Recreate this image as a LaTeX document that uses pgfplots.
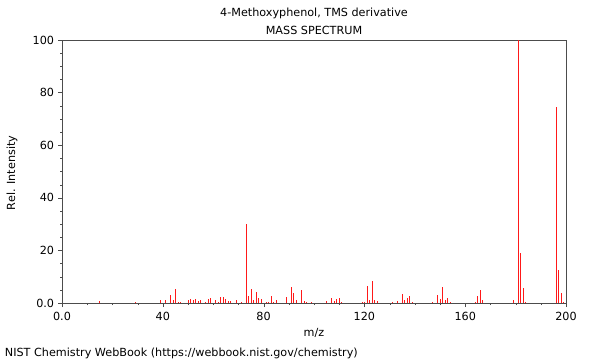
\documentclass[border=0pt]{standalone}
\usepackage{fontspec}
\setmainfont{DejaVu Sans}
\usepackage{pgfplots}
\pgfplotsset{compat=1.18}
\begin{document}
\fontsize{11.2bp}{13bp}\selectfont
\begin{tikzpicture}
\path[use as bounding box] (0,0) rectangle (600bp,360bp);
\begin{axis}[
  at={(62bp,57bp)}, anchor=south west,
  scale only axis, width=504bp, height=263bp,
  xmin=0, xmax=200, ymin=0, ymax=100,
  xtick={0,40,...,200}, xticklabels={0.0,40,80,120,160,200},
  ytick={0,20,...,100}, yticklabels={0.0,20,40,60,80,100},
  minor x tick num=3, minor y tick num=3,
  xtick pos=bottom, ytick pos=left, tick align=outside,
  major tick length=4bp, minor tick length=2bp,
  axis line style={black!70}, tick style={black!70},
  every tick label/.append style={font=\fontsize{11.2bp}{13bp}\selectfont},
  xticklabel style={yshift=-1bp},
  /pgf/number format/assume math mode=true,
  clip=false,
]
\addplot[ycomb, red!90, line width=0.7bp, mark=none] coordinates {
(15,0.6)(29,0.5)(39,1)(41,1)(43,3)(44,1)(45,5.3)(46,0.5)(47,0.5)
(50,1)(51,1.5)(52,1)(53,1.5)(54,0.8)(55,1.2)(57,0.5)(58,1.5)(59,2)
(61,1)(62,0.5)(63,2.3)(64,2.3)(65,1.5)(66,0.7)(67,0.7)(69,1.2)(71,0.3)
(73,30)(74,2.7)(75,5.3)(76,1.3)(77,4.3)(78,2)(79,1.5)(81,0.5)(82,0.5)
(83,2.5)(84,0.5)(85,1)(89,2.4)(91,6)(92,3.8)(93,1)(95,4.8)(96,0.7)
(97,0.5)(99,0.3)(105,0.7)(107,2)(108,0.7)(109,1.4)(110,2)(111,0.5)
(119,0.3)(120,0.3)(121,6.3)(122,1)(123,8.4)(124,1)(125,0.7)(131,0.3)
(133,0.7)(135,3.4)(136,1)(137,2)(138,2.8)(139,0.5)(147,0.3)(149,3.2)
(150,1.7)(151,6)(152,1)(153,2)(154,0.3)(164,0.3)(165,2.8)(166,5)(167,1)
(179,1)(181,100)(182,19)(183,5.6)(184,0.3)(196,74.4)(197,12.5)(198,3.7)(199,0.3)
};
\end{axis}
\node at (314bp,347bp) {4-Methoxyphenol, TMS derivative};
\node at (314bp,330bp) {MASS SPECTRUM};
\node at (314bp,27bp) {m/z};
\node[anchor=west] at (1bp,7bp) {NIST Chemistry WebBook (https://webbook.nist.gov/chemistry)};
\node[rotate=90] at (12bp,187bp) {Rel. Intensity};
\end{tikzpicture}
\end{document}
